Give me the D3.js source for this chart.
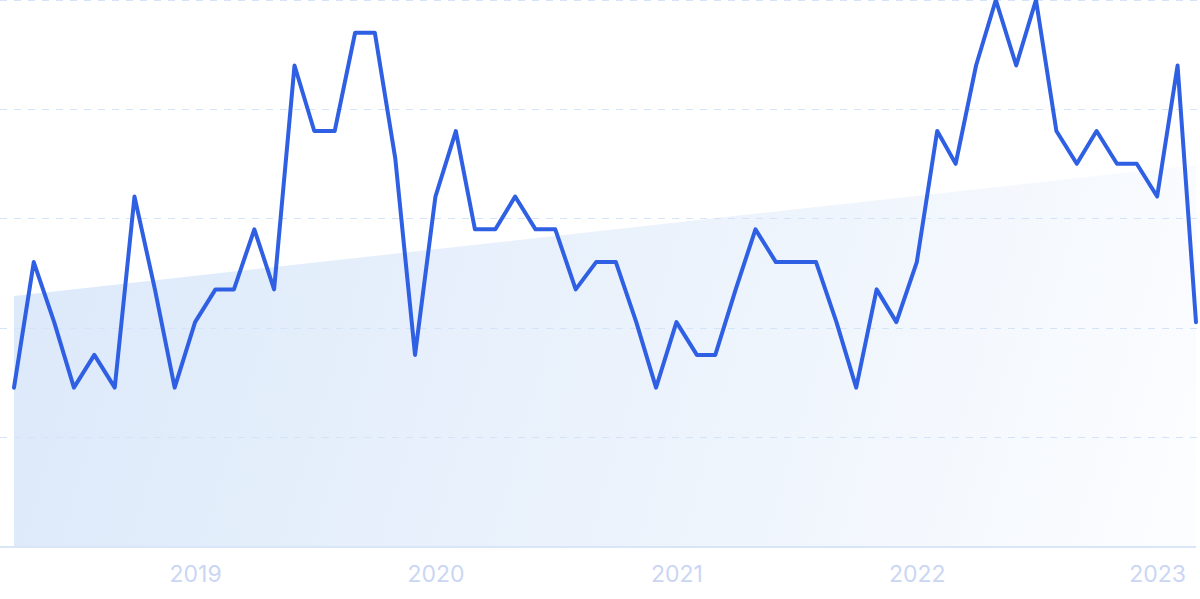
<!DOCTYPE html>
<html>
<head>
<meta charset="utf-8">
<script src="https://cdn.jsdelivr.net/npm/d3@7"></script>
<style>
  html, body { margin: 0; padding: 0; background: #ffffff; }
  svg { display: block; }
</style>
</head>
<body>
<svg id="chart" width="1200" height="599"></svg>
<script>
// Monthly series, April 2018 .. March 2023
const startMonth = "2018-04";
const values = [
  29, 52, 41, 29, 35, 29, 64, 47, 29, 41, 47, 47,
  58, 47, 88, 76, 76, 94, 94, 71, 35, 64, 76, 58,
  58, 64, 58, 58, 47, 52, 52, 41, 29, 41, 35, 35,
  47, 58, 52, 52, 52, 41, 29, 47, 41, 52, 76, 70,
  88, 100, 88, 100, 76, 70, 76, 70, 70, 64, 88, 41
];
// Trend line values at first and last month
const trendValues = [45.8, 69.8];
const yTicks = [0, 20, 40, 60, 80, 100];
const yearLabels = ["2019", "2020", "2021", "2022", "2023"];

(function () {
const svg = d3.select("#chart");
const W = 1200, H = 599;
const mLeft = 14, mRight = 1196, mTop = 0, mBottom = 546;

const parse = d3.timeParse("%Y-%m");
const t0 = parse(startMonth);
const dates = values.map((v, i) => d3.timeMonth.offset(t0, i));
const data = values.map((v, i) => ({ date: dates[i], value: v }));

const x = d3.scaleTime()
  .domain([dates[0], dates[dates.length - 1]])
  .range([mLeft, mRight]);
const y = d3.scaleLinear().domain([0, 100]).range([mBottom, mTop]);

// gradient for trend area
const defs = svg.append("defs");
const grad = defs.append("linearGradient")
  .attr("id", "trendGrad")
  .attr("gradientUnits", "userSpaceOnUse")
  .attr("x1", mLeft).attr("y1", 200)
  .attr("x2", mRight).attr("y2", mBottom);
grad.append("stop").attr("offset", "0%").attr("stop-color", "#dce9fa");
grad.append("stop").attr("offset", "55%").attr("stop-color", "#ecf3fc");
grad.append("stop").attr("offset", "100%").attr("stop-color", "#fcfdff");

// trend area
const trendData = [
  { date: dates[0], value: trendValues[0] },
  { date: dates[dates.length - 1], value: trendValues[1] }
];
svg.append("path")
  .datum(trendData)
  .attr("fill", "url(#trendGrad)")
  .attr("d", d3.area().x(d => x(d.date)).y0(y(0)).y1(d => y(d.value)));

// grid lines
svg.append("g")
  .selectAll("line")
  .data(yTicks.filter(t => t > 0))
  .join("line")
  .attr("x1", 0).attr("x2", W)
  .attr("y1", d => Math.round(y(d)) + 0.5)
  .attr("y2", d => Math.round(y(d)) + 0.5)
  .attr("stroke", "#d3e3f8")
  .attr("stroke-width", 1)
  .attr("stroke-dasharray", "7,7");

// baseline axis
svg.append("line")
  .attr("x1", 0).attr("x2", mRight)
  .attr("y1", y(0) + 1).attr("y2", y(0) + 1)
  .attr("stroke", "#d9e6f8")
  .attr("stroke-width", 2);

// x axis labels
const xAxis = d3.axisBottom(x)
  .tickValues(yearLabels.map(s => d3.timeParse("%Y")(s)))
  .tickFormat(d3.timeFormat("%Y"))
  .tickSize(0)
  .tickPadding(0);
const gx = svg.append("g").attr("transform", `translate(0,${mBottom})`).call(xAxis);
gx.select(".domain").remove();
gx.selectAll("text")
  .attr("y", 36)
  .attr("dy", 0)
  .attr("fill", "#cad6f4")
  .attr("font-family", "Inter, 'Noto Sans', sans-serif")
  .attr("font-size", 23);

// main line
svg.append("path")
  .datum(data)
  .attr("fill", "none")
  .attr("stroke", "#2f60e3")
  .attr("stroke-width", 4)
  .attr("stroke-linejoin", "round")
  .attr("stroke-linecap", "round")
  .attr("d", d3.line().x(d => x(d.date)).y(d => y(d.value)));
})();
</script>
</body>
</html>
